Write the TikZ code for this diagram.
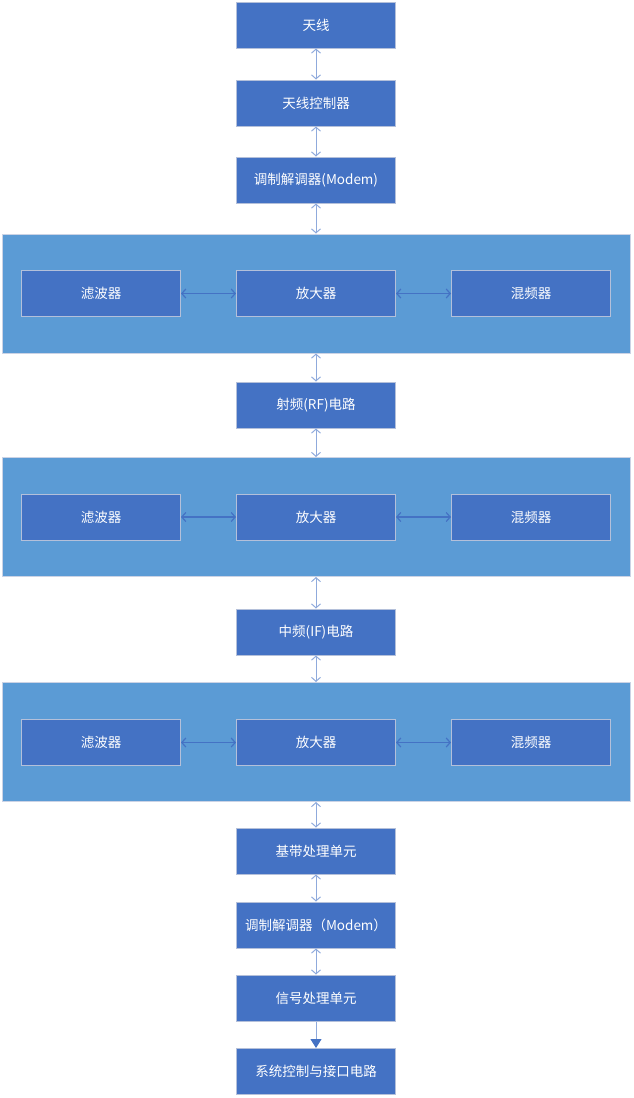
\documentclass[tikz,border=0pt]{standalone}
\usepackage{fontspec}
\newfontfamily\cjk{Noto Sans CJK SC}
\usetikzlibrary{arrows.meta}
\definecolor{BoxBlue}{HTML}{4472C4}
\definecolor{PanelBlue}{HTML}{5B9BD5}
\definecolor{LinkBlue}{HTML}{8FAADC}
\definecolor{EdgeGray}{HTML}{B4C0DA}

\tikzset{
  blk/.style={draw=EdgeGray, line width=1pt, fill=BoxBlue, text=white,
    minimum width=159pt, minimum height=46pt, inner sep=0pt,
    font=\cjk\fontsize{13.5}{15}\selectfont},
  panel/.style={draw=EdgeGray!70, line width=1pt, fill=PanelBlue,
    minimum width=628pt, minimum height=119pt, inner sep=0pt},
  link/.style={draw=LinkBlue, line width=1pt,
    {Straight Barb[length=4pt,width=9pt]}-{Straight Barb[length=4pt,width=9pt]}},
  hlink/.style={draw=BoxBlue, line width=1.2pt,
    {Straight Barb[length=4pt,width=9pt]}-{Straight Barb[length=4pt,width=9pt]}}
}

\begin{document}
\begin{tikzpicture}[x=1pt,y=-1pt]
  \useasboundingbox (0,0) rectangle (633,1098);

  % top chain
  \node[blk] (ant) at (316,25) {天线};
  \node[blk] (antctl) at (316,103) {天线控制器};
  \node[blk] (modem) at (316,180) {调制解调器(Modem)};

  % RF stage
  \node[panel] (rfpanel) at (316,293.5) {};
  \node[blk] (rffilt) at (101,293.5) {滤波器};
  \node[blk] (rfamp) at (316,293.5) {放大器};
  \node[blk] (rfmix) at (531,293.5) {混频器};
  \node[blk] (rf) at (316,405) {射频(RF)电路};

  % IF stage
  \node[panel] (ifpanel) at (316,517) {};
  \node[blk] (iffilt) at (101,517) {滤波器};
  \node[blk] (ifamp) at (316,517) {放大器};
  \node[blk] (ifmix) at (531,517) {混频器};
  \node[blk] (if) at (316,632) {中频(IF)电路};

  % baseband stage
  \node[panel] (bbpanel) at (316,742) {};
  \node[blk] (bbfilt) at (101,742.5) {滤波器};
  \node[blk] (bbamp) at (316,742.5) {放大器};
  \node[blk] (bbmix) at (531,742.5) {混频器};
  \node[blk] (bb) at (316,851) {基带处理单元};
  \node[blk] (modem2) at (316,925) {调制解调器（Modem）};
  \node[blk] (sig) at (316,998) {信号处理单元};
  \node[blk] (sys) at (316,1071.5) {系统控制与接口电路};

  % vertical links
  \foreach \a/\b in {ant/antctl, antctl/modem, modem/rfpanel, rfpanel/rf,
      rf/ifpanel, ifpanel/if, if/bbpanel, bbpanel/bb, bb/modem2, modem2/sig}
    \draw[link] (\a.south) -- (\b.north);
  \draw[draw=LinkBlue, line width=1pt,
    -{Triangle[length=9pt,width=11pt,color=BoxBlue]}] (sig.south) -- (sys.north);

  % horizontal links
  \foreach \p in {rf, if, bb} {
    \draw[hlink] (\p filt.east) -- (\p amp.west);
    \draw[hlink] (\p amp.east) -- (\p mix.west);
  }
\end{tikzpicture}
\end{document}
